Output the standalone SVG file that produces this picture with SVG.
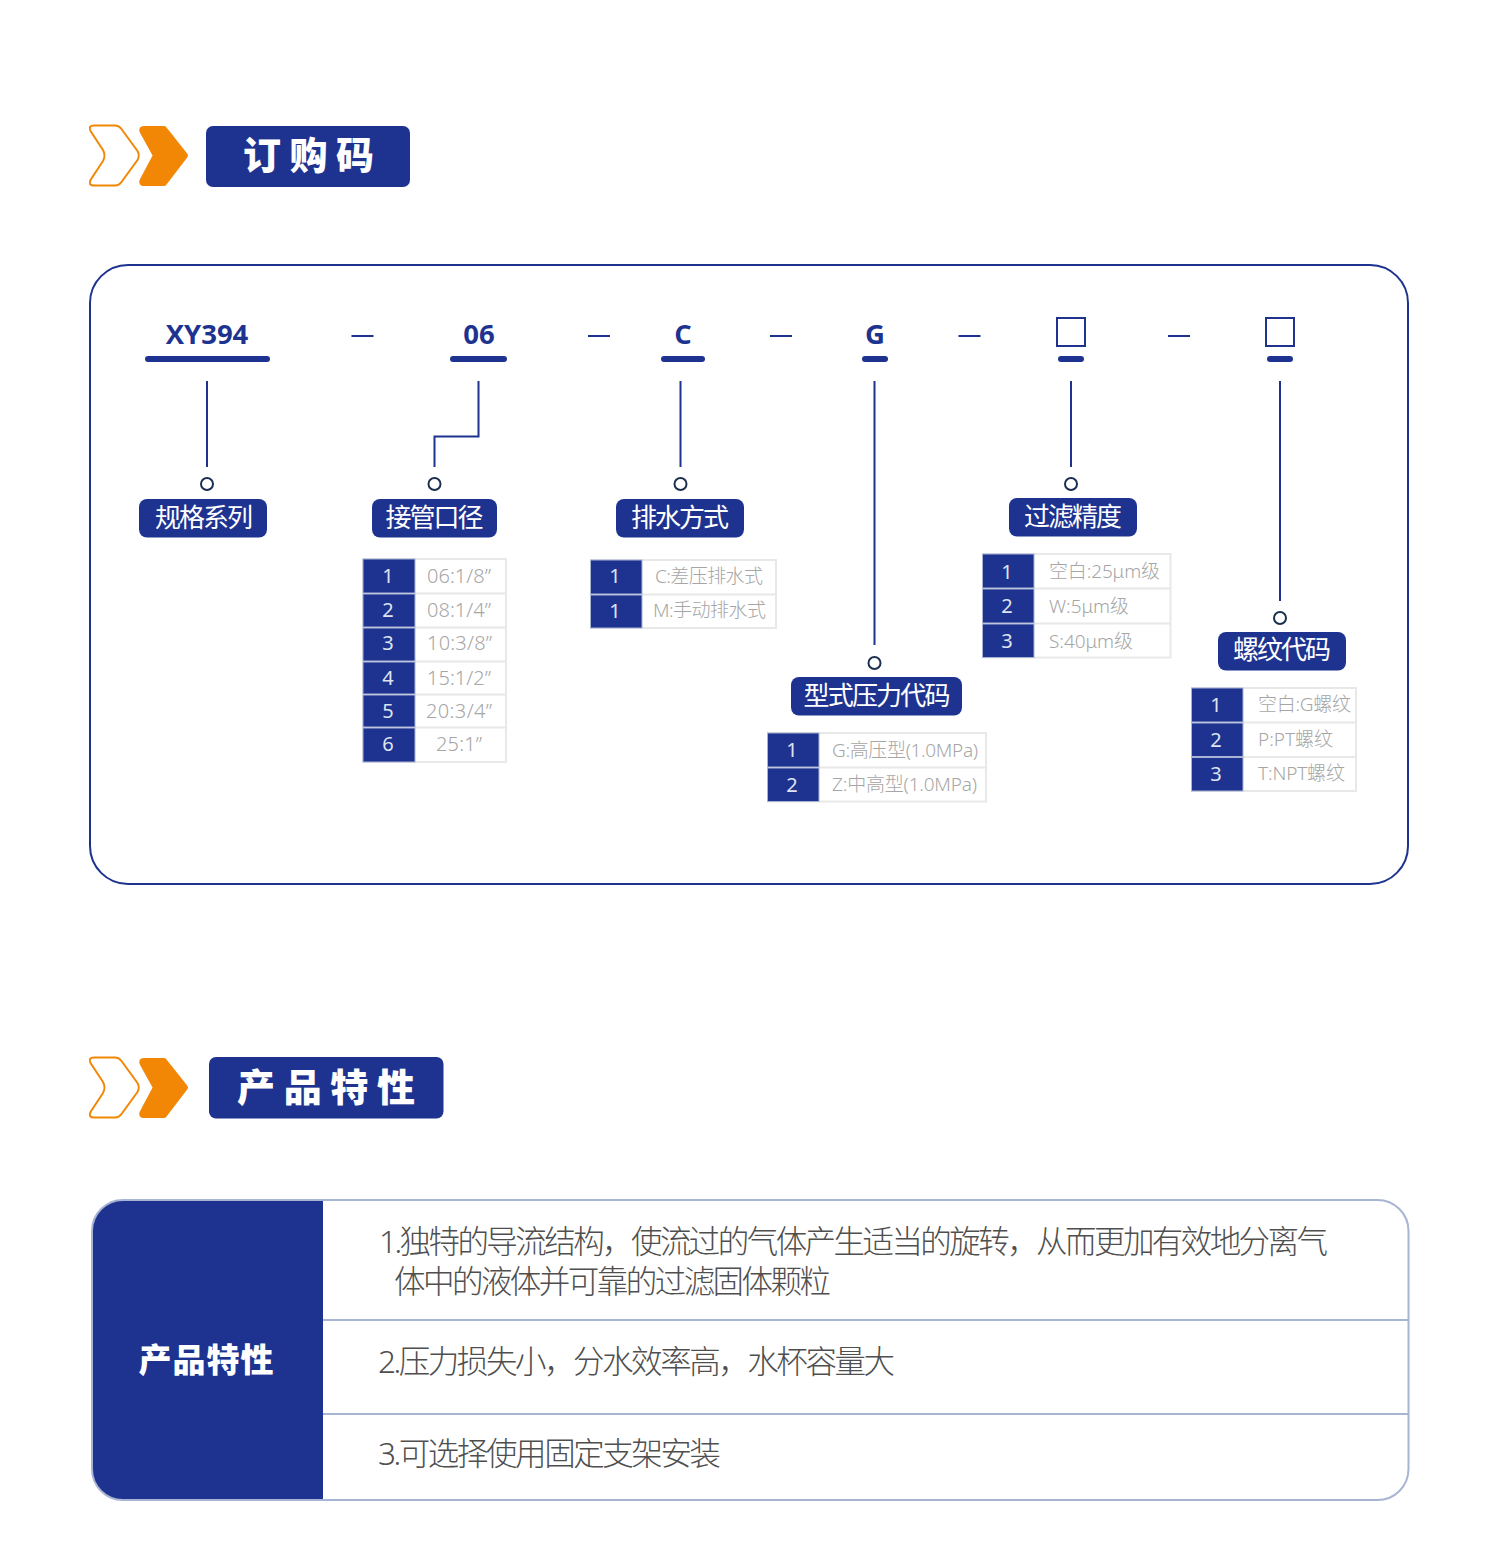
<svg xmlns="http://www.w3.org/2000/svg" width="1500" height="1565" viewBox="0 0 1500 1565">
<style>
text{font-family:"Noto Sans","Noto Sans CJK SC",sans-serif}
.cjk{font-family:"Noto Sans CJK SC","Noto Sans",sans-serif}
.blue{fill:#1e3390}
.ln{fill:none;stroke:#1e3390;stroke-width:2}
.dot{fill:#fff;stroke:#1b3050;stroke-width:2}
.hd{fill:#fff;font-size:38px;font-weight:900;font-family:"Noto Sans CJK SC",sans-serif;text-anchor:start}
.code{fill:#1e3390;font-size:27.500px;font-weight:700;font-family:"Open Sans","Noto Sans",sans-serif;text-anchor:middle}
.pt{fill:#fff;font-size:26px;font-family:"Noto Sans CJK SC",sans-serif;text-anchor:middle}
.num{fill:#dfe3f0;font-size:20px;font-family:"Noto Sans",sans-serif;text-anchor:middle}
.val{fill:#a6a6a6;font-size:19px;font-weight:300;font-family:"Noto Sans","Noto Sans CJK SC",sans-serif}
.val2{fill:#a6a6a6;font-size:20px;font-weight:300;font-family:"Noto Sans",sans-serif}
.cell{fill:#fff;stroke:#e8e8e8;stroke-width:2}
.cellb{fill:#1e3390;stroke:#a8b4d4;stroke-width:1}
.body{fill:#4f4f4f;font-size:31.500px;font-weight:300;font-family:"Noto Sans","Noto Sans CJK SC",sans-serif}
.rule{stroke:#a8b4d4;stroke-width:2;fill:none}
.chev-o{fill:#fff;stroke:#f28705;stroke-width:2;stroke-linejoin:round}
.chev-f{fill:#f28705;stroke:#f28705;stroke-width:6;stroke-linejoin:round}
</style>
<defs>
<g id="chevrons">
<path class="chev-o" d="M94 125.500H115Q119 125.500 121.500 129L137.500 151Q140 155.500 137.500 160L121.500 182Q119 185.500 115 185.500H94Q88 185.500 90.500 180L103 161Q106 155.500 103 150L90.500 131Q88 125.500 94 125.500Z"/>
<path class="chev-f" d="M144 129H164L185 155.500L164 183H144Q141 183 143 180L156 155.500L143 132Q141 129 144 129Z"/>
</g>
</defs>

<g id="header-order">
<use href="#chevrons"/>
<rect class="blue" x="206" y="126" width="204" height="61" rx="7"/>
<text class="hd" x="243" y="169" textLength="131" lengthAdjust="spacing">订购码</text>
</g>

<rect id="code-frame" x="90" y="265" width="1318" height="619" rx="38" fill="#fff" stroke="#1e3390" stroke-width="2"/>

<g id="code-parts">
<text class="code" x="207" y="344">XY394</text><rect class="blue" x="145" y="356" width="125" height="6" rx="3"/>
<text class="code" x="479" y="344">06</text><rect class="blue" x="450" y="356" width="57" height="6" rx="3"/>
<text class="code" x="683" y="344">C</text><rect class="blue" x="661" y="356" width="44" height="6" rx="3"/>
<text class="code" x="875" y="344">G</text><rect class="blue" x="862" y="356" width="26" height="6" rx="3"/>
<rect class="ln" x="1057" y="318" width="28" height="28"/><rect class="blue" x="1058" y="356" width="26" height="6" rx="3"/>
<rect class="ln" x="1266" y="318" width="28" height="28"/><rect class="blue" x="1267" y="356" width="26" height="6" rx="3"/>
</g>

<g id="connectors">
<path class="ln" d="M351.500 336H373.500M588 336H610M770 336H792M958.500 336H980.500M1168 336H1190"/>
<path class="ln" d="M207 381V467"/>
<path class="ln" d="M478.500 381V436.500H434.500V467"/>
<path class="ln" d="M680.500 381V467"/>
<path class="ln" d="M874.500 381V645"/>
<path class="ln" d="M1071 381V467"/>
<path class="ln" d="M1280 381V601"/>
</g>

<g id="node-spec">
<circle class="dot" cx="207" cy="484" r="6"/>
<rect class="blue" x="139" y="499" width="128" height="38.500" rx="8"/>
<text class="pt" x="204" y="526.500" textLength="98" lengthAdjust="spacing">规格系列</text>
</g>

<g id="node-port">
<circle class="dot" cx="434.500" cy="484" r="6"/>
<rect class="blue" x="372" y="499" width="125" height="38.500" rx="8"/>
<text class="pt" x="434.500" y="526.500" textLength="98" lengthAdjust="spacing">接管口径</text>
<rect class="cell" x="363" y="559" width="143" height="203"/>
<path stroke="#e8e8e8" stroke-width="2" d="M415 593.500H506M415 627.500H506M415 661.500H506M415 694.500H506M415 727.500H506"/>
<rect class="cellb" x="363" y="559" width="52" height="34"/><rect class="cellb" x="363" y="594" width="52" height="33"/><rect class="cellb" x="363" y="628" width="52" height="33"/><rect class="cellb" x="363" y="662" width="52" height="32"/><rect class="cellb" x="363" y="695" width="52" height="32"/><rect class="cellb" x="363" y="728" width="52" height="34"/>
<text class="num" x="388" y="583">1</text><text class="num" x="388" y="617">2</text><text class="num" x="388" y="650">3</text><text class="num" x="388" y="685">4</text><text class="num" x="388" y="718">5</text><text class="num" x="388" y="751">6</text>
<text class="val2" x="427" y="583" textLength="64" lengthAdjust="spacing">06:1/8”</text><text class="val2" x="427" y="617" textLength="64" lengthAdjust="spacing">08:1/4”</text><text class="val2" x="427" y="650" textLength="65" lengthAdjust="spacing">10:3/8”</text><text class="val2" x="427" y="685" textLength="64" lengthAdjust="spacing">15:1/2”</text><text class="val2" x="426" y="718" textLength="66" lengthAdjust="spacing">20:3/4”</text><text class="val2" x="436" y="751" textLength="46" lengthAdjust="spacing">25:1”</text>
</g>

<g id="node-drain">
<circle class="dot" cx="680.500" cy="484" r="6"/>
<rect class="blue" x="616" y="499" width="128" height="38.500" rx="8"/>
<text class="pt" x="680" y="526.500" textLength="98" lengthAdjust="spacing">排水方式</text>
<rect class="cell" x="591" y="560" width="185" height="68"/>
<path stroke="#e8e8e8" stroke-width="2" d="M642 594.500H776"/>
<rect class="cellb" x="590.500" y="560" width="51.500" height="34"/><rect class="cellb" x="590.500" y="595" width="51.500" height="33"/>
<text class="num" x="615" y="583">1</text><text class="num" x="615" y="618">1</text>
<text class="val" x="655" y="583" textLength="108" lengthAdjust="spacing">C:差压排水式</text><text class="val" x="653" y="617" textLength="113" lengthAdjust="spacing">M:手动排水式</text>
</g>

<g id="node-type">
<circle class="dot" cx="874.500" cy="663" r="6"/>
<rect class="blue" x="791" y="677" width="171" height="38.500" rx="8"/>
<text class="pt" x="877" y="704.500" textLength="147" lengthAdjust="spacing">型式压力代码</text>
<rect class="cell" x="768" y="733" width="218" height="68.500"/>
<path stroke="#e8e8e8" stroke-width="2" d="M819 767.500H986"/>
<rect class="cellb" x="767.500" y="733" width="51.500" height="34"/><rect class="cellb" x="767.500" y="768" width="51.500" height="33.500"/>
<text class="num" x="792" y="757">1</text><text class="num" x="792" y="792">2</text>
<text class="val" x="832" y="757" textLength="146" lengthAdjust="spacing">G:高压型(1.0MPa)</text><text class="val" x="832" y="791" textLength="145" lengthAdjust="spacing">Z:中高型(1.0MPa)</text>
</g>

<g id="node-filter">
<circle class="dot" cx="1071" cy="484" r="6"/>
<rect class="blue" x="1009" y="498" width="128" height="38.500" rx="8"/>
<text class="pt" x="1073" y="525.500" textLength="98" lengthAdjust="spacing">过滤精度</text>
<rect class="cell" x="983" y="554" width="187.500" height="103.500"/>
<path stroke="#e8e8e8" stroke-width="2" d="M1034 588.500H1170M1034 623.500H1170"/>
<rect class="cellb" x="982.500" y="554" width="51.500" height="34"/><rect class="cellb" x="982.500" y="589" width="51.500" height="34"/><rect class="cellb" x="982.500" y="624" width="51.500" height="33.500"/>
<text class="num" x="1007" y="579">1</text><text class="num" x="1007" y="613">2</text><text class="num" x="1007" y="648">3</text>
<text class="val" x="1049" y="578" textLength="111" lengthAdjust="spacing">空白:25μm级</text><text class="val" x="1049" y="612.500" textLength="80" lengthAdjust="spacing">W:5μm级</text><text class="val" x="1049" y="647.500" textLength="84" lengthAdjust="spacing">S:40μm级</text>
</g>

<g id="node-thread">
<circle class="dot" cx="1280" cy="618" r="6"/>
<rect class="blue" x="1218" y="632" width="128" height="38.500" rx="8"/>
<text class="pt" x="1282" y="659" textLength="98" lengthAdjust="spacing">螺纹代码</text>
<rect class="cell" x="1192" y="688" width="164" height="103"/>
<path stroke="#e8e8e8" stroke-width="2" d="M1243 722.500H1356M1243 757H1356"/>
<rect class="cellb" x="1191.500" y="688" width="51.500" height="34"/><rect class="cellb" x="1191.500" y="723" width="51.500" height="33.500"/><rect class="cellb" x="1191.500" y="757.500" width="51.500" height="33.500"/>
<text class="num" x="1216" y="712">1</text><text class="num" x="1216" y="747">2</text><text class="num" x="1216" y="781">3</text>
<text class="val" x="1258" y="711" textLength="93" lengthAdjust="spacing">空白:G螺纹</text><text class="val" x="1258" y="746" textLength="75" lengthAdjust="spacing">P:PT螺纹</text><text class="val" x="1258" y="780" textLength="87" lengthAdjust="spacing">T:NPT螺纹</text>
</g>

<g id="header-features">
<use href="#chevrons" y="932"/>
<rect class="blue" x="209" y="1057" width="234.500" height="61.500" rx="7"/>
<text class="hd" x="237" y="1101" textLength="178" lengthAdjust="spacing">产品特性</text>
</g>

<g id="features-table">
<path d="M323 1200H123A31 31 0 0 0 92 1231V1469A31 31 0 0 0 123 1500H323Z" class="blue"/>
<rect class="rule" x="92" y="1200" width="1316.500" height="300" rx="31"/>
<path class="rule" d="M323 1320H1408M323 1414H1408"/>
<text x="206" y="1372" text-anchor="middle" fill="#fff" font-size="33" font-weight="900" class="cjk" textLength="135" lengthAdjust="spacing">产品特性</text>
<text class="body" x="379" y="1252.500" textLength="949" lengthAdjust="spacing">1.独特的导流结构，使流过的气体产生适当的旋转，从而更加有效地分离气</text>
<text class="body" x="394" y="1292.500" textLength="437" lengthAdjust="spacing">体中的液体并可靠的过滤固体颗粒</text>
<text class="body" x="378" y="1372.500" textLength="517" lengthAdjust="spacing">2.压力损失小，分水效率高，水杯容量大</text>
<text class="body" x="378" y="1464.500" textLength="343" lengthAdjust="spacing">3.可选择使用固定支架安装</text>
</g>
</svg>
